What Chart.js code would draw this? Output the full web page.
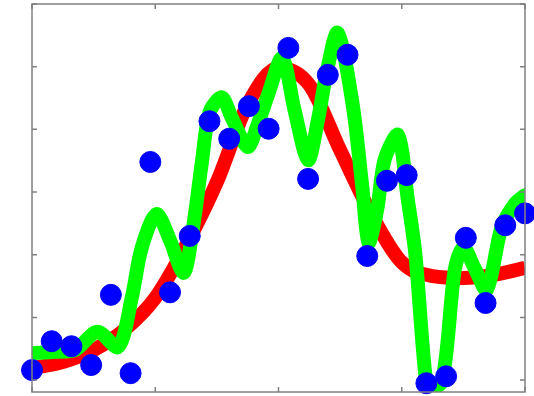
<!DOCTYPE html>
<html lang="en">
<head>
    <meta charset="UTF-8">
    <title>Fit comparison</title>
    <script src="https://cdn.jsdelivr.net/npm/chart.js"></script>
    <style>
        html, body {
            margin: 0;
            padding: 0;
            background: #fff;
        }
        #chart-container {
            width: 534px;
            height: 396px;
        }
    </style>
</head>
<body>
    <div id="chart-container">
        <canvas id="fitChart" width="534" height="396"></canvas>
    </div>

    <script>
        // samples (blue dots)
        const sampleX = [0, 0.16, 0.32, 0.48, 0.64, 0.8, 0.96, 1.12, 1.28, 1.44, 1.6, 1.76, 1.92,
                         2.08, 2.24, 2.4, 2.56, 2.72, 2.88, 3.04, 3.2, 3.36, 3.52, 3.68, 3.84, 4.0];
        const sampleY = [0.16, 0.62, 0.54, 0.24, 1.36, 0.11, 3.48, 1.40, 2.30, 4.13, 3.85, 4.37, 4.01,
                         5.30, 3.21, 4.87, 5.19, 1.98, 3.18, 3.27, -0.05, 0.06, 2.27, 1.23, 2.47, 2.66];

        // smooth model (red)
        const modelX = [0, 0.25, 0.5, 0.75, 1.0, 1.25, 1.5, 1.75, 2.0, 2.25, 2.5, 2.75, 3.0, 3.25, 3.5, 3.75, 4.0];
        const modelY = [0.19, 0.29, 0.48, 0.80, 1.31, 2.15, 3.16, 4.40, 4.98, 4.71, 3.67, 2.66, 1.88, 1.66, 1.63, 1.68, 1.79];

        // overfitted curve (green)
        const fitX = [0, 0.19, 0.35, 0.53, 0.70, 0.81, 0.89, 1.01, 1.12, 1.23, 1.30, 1.38, 1.44, 1.54,
                      1.62, 1.75, 1.83, 1.92, 2.03, 2.13, 2.24, 2.32, 2.39, 2.48, 2.60, 2.68, 2.73, 2.80,
                      2.86, 2.97, 3.05, 3.11, 3.19, 3.23, 3.33, 3.43, 3.50, 3.59, 3.69, 3.81, 3.92, 4.0];
        const fitY = [0.43, 0.45, 0.48, 0.77, 0.53, 1.32, 2.11, 2.65, 2.23, 1.71, 2.35, 3.50, 4.27, 4.51,
                      4.19, 3.72, 4.07, 4.58, 5.14, 4.31, 3.51, 4.15, 4.90, 5.54, 4.42, 3.08, 2.19, 2.71,
                      3.51, 3.91, 2.87, 2.02, 0.11, -0.16, 0.00, 1.76, 2.12, 1.79, 1.44, 2.44, 2.82, 2.95];

        const xTicks = [0, 1, 2, 3, 4];
        const yTicks = [0, 1, 2, 3, 4, 5, 6];

        const toPoints = (xs, ys) => xs.map((x, i) => ({ x: x, y: ys[i] }));

        // frame + inward tick marks on all four sides
        const framePlugin = {
            id: 'frame',
            afterDraw(chart) {
                const { ctx, chartArea: a, scales } = chart;
                ctx.save();
                ctx.strokeStyle = '#808080';
                ctx.lineWidth = 1.5;
                ctx.strokeRect(a.left, a.top, a.right - a.left, a.bottom - a.top);
                const len = 5;
                ctx.beginPath();
                xTicks.forEach(t => {
                    const px = scales.x.getPixelForValue(t);
                    ctx.moveTo(px, a.bottom); ctx.lineTo(px, a.bottom - len);
                    ctx.moveTo(px, a.top); ctx.lineTo(px, a.top + len);
                });
                yTicks.forEach(t => {
                    const py = scales.y.getPixelForValue(t);
                    ctx.moveTo(a.left, py); ctx.lineTo(a.left + len, py);
                    ctx.moveTo(a.right, py); ctx.lineTo(a.right - len, py);
                });
                ctx.stroke();
                ctx.restore();
            }
        };

        const ctx = document.getElementById('fitChart').getContext('2d');
        new Chart(ctx, {
            type: 'scatter',
            data: {
                datasets: [
                    {
                        label: 'samples',
                        data: toPoints(sampleX, sampleY),
                        backgroundColor: '#0000ff',
                        borderColor: '#0000ff',
                        pointRadius: 10.5,
                        order: 0,
                        clip: false
                    },
                    {
                        label: 'fit',
                        type: 'line',
                        data: toPoints(fitX, fitY),
                        borderColor: '#00ff00',
                        borderWidth: 14,
                        pointRadius: 0,
                        tension: 0.3,
                        fill: false,
                        borderJoinStyle: 'round',
                        borderCapStyle: 'round',
                        order: 1
                    },
                    {
                        label: 'model',
                        type: 'line',
                        data: toPoints(modelX, modelY),
                        borderColor: '#ff0000',
                        borderWidth: 14,
                        pointRadius: 0,
                        cubicInterpolationMode: 'monotone',
                        fill: false,
                        order: 2
                    }
                ]
            },
            options: {
                responsive: false,
                animation: false,
                events: [],
                layout: {
                    autoPadding: false,
                    padding: { left: 32, top: 4, right: 9, bottom: 4 }
                },
                plugins: {
                    legend: { display: false },
                    tooltip: { enabled: false }
                },
                scales: {
                    x: { type: 'linear', min: 0, max: 4, display: false },
                    y: { type: 'linear', min: -0.19, max: 6, display: false }
                }
            },
            plugins: [framePlugin]
        });
    </script>
</body>
</html>
